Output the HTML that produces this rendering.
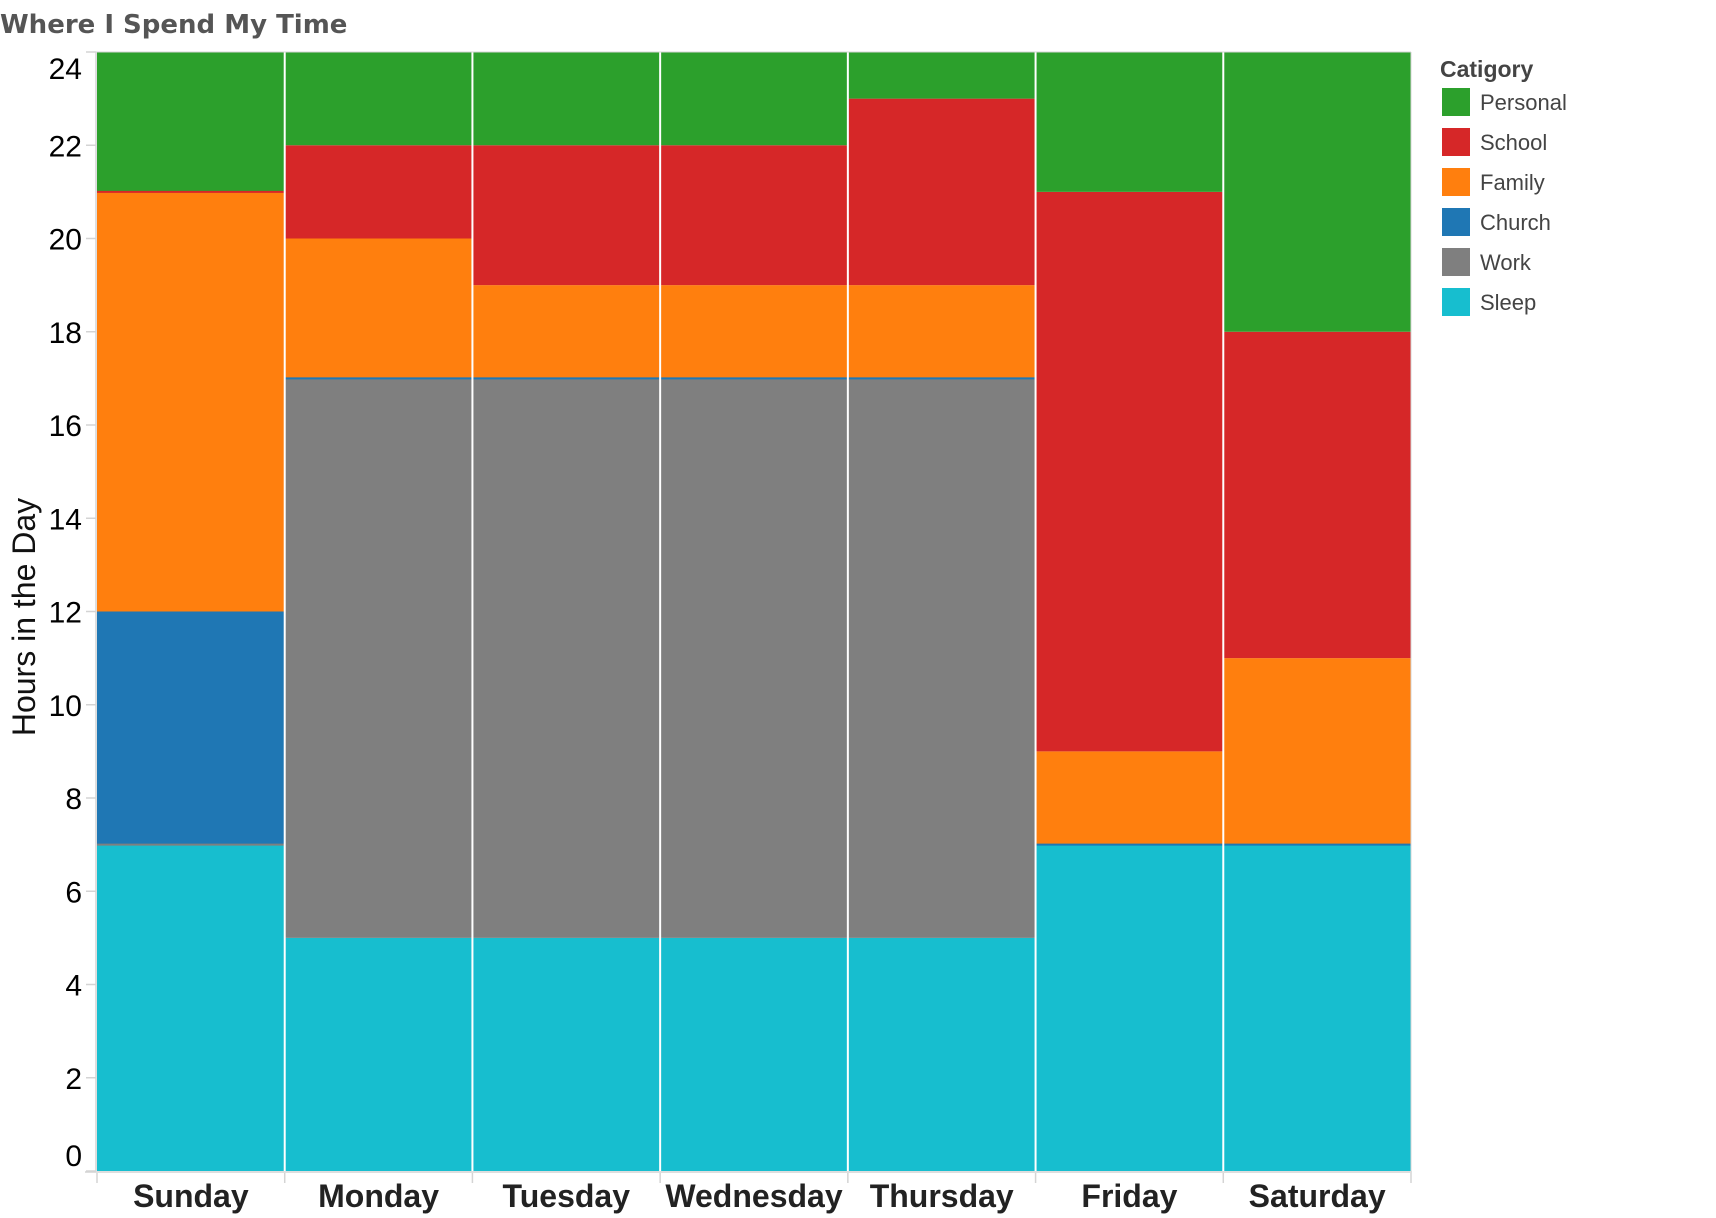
<!DOCTYPE html>
<html><head><meta charset="utf-8"><style>
html,body{margin:0;padding:0;background:#fff;}
svg{display:block;}
</style></head><body>
<svg id="chart" width="1716" height="1218" xmlns="http://www.w3.org/2000/svg">
<text x="0" y="33" font-family="'DejaVu Sans', 'Liberation Sans', sans-serif" font-weight="bold" font-size="26" fill="#555">Where I Spend My Time</text>
<text transform="translate(35,617) rotate(-90)" text-anchor="middle" font-family="'Liberation Sans', sans-serif" font-size="32" fill="#111">Hours in the Day</text>
<g id="bars"></g><g id="axes"></g><g id="legend"></g>
</svg>
<script>
const days = ["Sunday","Monday","Tuesday","Wednesday","Thursday","Friday","Saturday"];
const categories = ["Sleep","Work","Church","Family","School","Personal"];
const colors = ["#17becf","#7f7f7f","#1f77b4","#ff7f0e","#d62728","#2ca02c"];
const sleep    = [7,5,5,5,5,7,7];
const work     = [0,12,12,12,12,0,0];
const church   = [5,0,0,0,0,0,0];
const family   = [9,3,2,2,2,2,4];
const school   = [0,2,3,3,4,12,7];
const personal = [3,2,2,2,1,3,6];
// categories present with 0 hours (drawn as hairlines)
const zeroWork   = [1,0,0,0,0,0,0];
const zeroChurch = [0,1,1,1,1,1,1];
const zeroSchool = [1,0,0,0,0,0,0];
const yTicks = [0,2,4,6,8,10,12,14,16,18,20,22,24];
const legendOrder = ["Personal","School","Family","Church","Work","Sleep"];

const series = [sleep,work,church,family,school,personal];
const zeros = [null,zeroWork,zeroChurch,null,zeroSchool,null];
const L=97,R=1411,T=52,B=1171,yMax=24;
const bw=(R-L)/days.length;
const y=v=>B-(v/yMax)*(B-T);
const x=i=>L+i*bw;
const NS="http://www.w3.org/2000/svg";
function mk(tag,attrs,parent){const e=document.createElementNS(NS,tag);for(const k in attrs)e.setAttribute(k,attrs[k]);parent.appendChild(e);return e;}
const gb=document.getElementById('bars'),ga=document.getElementById('axes'),gl=document.getElementById('legend');

const hair=[];
days.forEach((d,i)=>{
  let acc=0;
  series.forEach((s,k)=>{
    const v=s[i];
    if(v>0){
      const r=mk('rect',{x:x(i),y:y(acc+v),width:bw,height:y(acc)-y(acc+v),fill:colors[k]},gb);
      
      
    } else if(zeros[k] && zeros[k][i]){
      hair.push([i,acc,k]);
    }
    acc+=v;
  });
});
hair.forEach(([i,acc,k])=>{
  const l=mk('rect',{x:x(i),y:y(acc)-1,width:bw,height:2,fill:colors[k]},gb);
  
  
});
for(let i=1;i<days.length;i++){
  const l=mk('line',{x1:x(i),x2:x(i),y1:T,y2:B,stroke:'#fff','stroke-width':2},ga);
  
  
}
const ya=mk('line',{x1:L-1,x2:L-1,y1:T,y2:B,stroke:'#d4d4d4','stroke-width':1.5},ga);


const xa=mk('line',{x1:L-12,x2:R+1,y1:B+1,y2:B+1,stroke:'#d4d4d4','stroke-width':1.5},ga);


const tp=mk('line',{x1:L-10,x2:R,y1:T,y2:T,stroke:'#d4d4d4','stroke-width':1},ga);


mk('line',{x1:R,x2:R,y1:T,y2:B,stroke:'#d4d4d4','stroke-width':1},ga);
yTicks.forEach((t,j)=>{
  mk('line',{x1:L-11,x2:L-1,y1:y(t),y2:y(t),stroke:'#d4d4d4','stroke-width':1.5},ga);
  let off=11;
  if(j===0) off=-5;
  if(j===yTicks.length-1) off=27;
  const tx=mk('text',{x:82,y:y(t)+off,'text-anchor':'end','font-family':"'Liberation Sans', sans-serif",'font-size':30,fill:'#000'},ga);
  tx.textContent=t;
  
  
});
for(let i=0;i<=days.length;i++){
  mk('line',{x1:x(i),x2:x(i),y1:B+2,y2:B+12,stroke:'#d4d4d4','stroke-width':1.5},ga);
}
days.forEach((d,i)=>{
  const tx=mk('text',{x:x(i)+bw/2,y:1207,'text-anchor':'middle','font-family':"'Liberation Sans', sans-serif",'font-weight':'bold','font-size':32,fill:'#222'},ga);
  tx.textContent=d;
  
  
});
const lt=mk('text',{x:1440,y:77,'font-family':"'Liberation Sans', sans-serif",'font-weight':'bold','font-size':23,fill:'#444'},gl);
lt.textContent='Catigory';


legendOrder.forEach((c,j)=>{
  const k=categories.indexOf(c);
  const g=mk('g',{},gl);
  
  
  mk('rect',{x:1442,y:88+j*40,width:28,height:28,fill:colors[k]},g);
  const tx=mk('text',{x:1480,y:110+j*40,'font-family':"'Liberation Sans', sans-serif",'font-size':22,fill:'#444'},g);
  tx.textContent=c;
});
</script>
</body></html>
